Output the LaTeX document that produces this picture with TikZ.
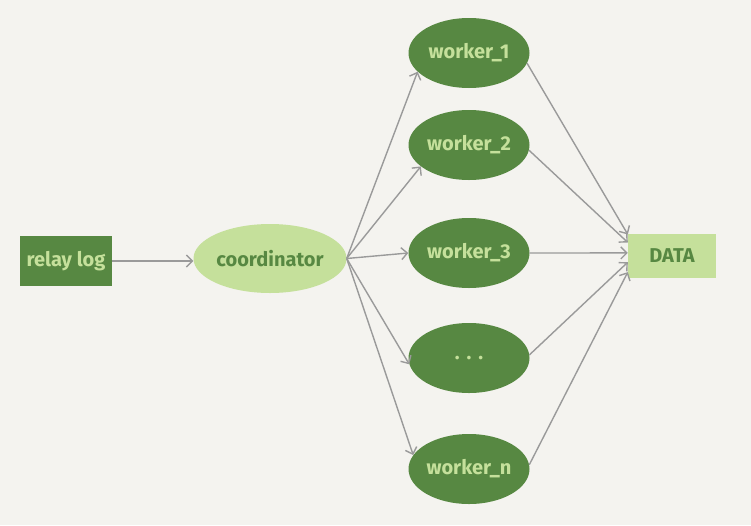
\documentclass[tikz,border=0pt]{standalone}
\usepackage{fontspec}
\setmainfont{Fira Sans}
\usetikzlibrary{arrows.meta,shapes.geometric,positioning}

\definecolor{paper}{HTML}{F4F3EF}
\definecolor{darkgreen}{HTML}{578842}
\definecolor{lightgreen}{HTML}{C5E09B}
\definecolor{wire}{HTML}{9A9A9A}

\tikzset{
  darkbox/.style={rectangle, fill=darkgreen, text=lightgreen, minimum width=92pt, minimum height=50pt, inner sep=0pt},
  lightbox/.style={rectangle, fill=lightgreen, text=darkgreen, minimum width=88pt, minimum height=44pt, inner sep=0pt},
  worker/.style={ellipse, fill=darkgreen, text=lightgreen, minimum width=121pt, minimum height=70pt, inner sep=0pt},
  coord/.style={ellipse, fill=lightgreen, text=darkgreen, minimum width=153pt, minimum height=69pt, inner sep=0pt},
  flow/.style={draw=wire, line width=1.4pt, -{Straight Barb[length=6pt,width=12pt,line width=1.4pt]}}
}

\begin{document}
\begin{tikzpicture}[x=1pt, y=-1pt, font=\fontsize{20}{24}\selectfont\bfseries]
\fill[paper] (0,0) rectangle (751,525);
\useasboundingbox (0,0) rectangle (751,525);

\node[darkbox] (relay) at (66,261) {relay log};
\node[coord] (coordinator) at (270,258.5) {coordinator};
\node[lightbox] (data) at (672,256) {DATA};

% workers: name / y / label / angle in / angle out / angle at DATA
\foreach \n/\y/\l/\ain/\aout/\ad in {1/53/worker\_1/200/350/154,
                                     2/145/worker\_2/204/355/163,
                                     3/253/worker\_3/180/0/176,
                                     4/358/{.\hspace{7pt}.\hspace{7pt}.}/186/3/188,
                                     5/469/worker\_n/166/4/200} {
  \node[worker] (w\n) at (469,\y) {\l};
  \draw[flow] (coordinator.east) -- (w\n.\ain);
  \draw[flow] (w\n.\aout) -- (data.\ad);
}
\draw[flow] (relay.east) -- (coordinator.west |- relay.east);
\end{tikzpicture}
\end{document}
